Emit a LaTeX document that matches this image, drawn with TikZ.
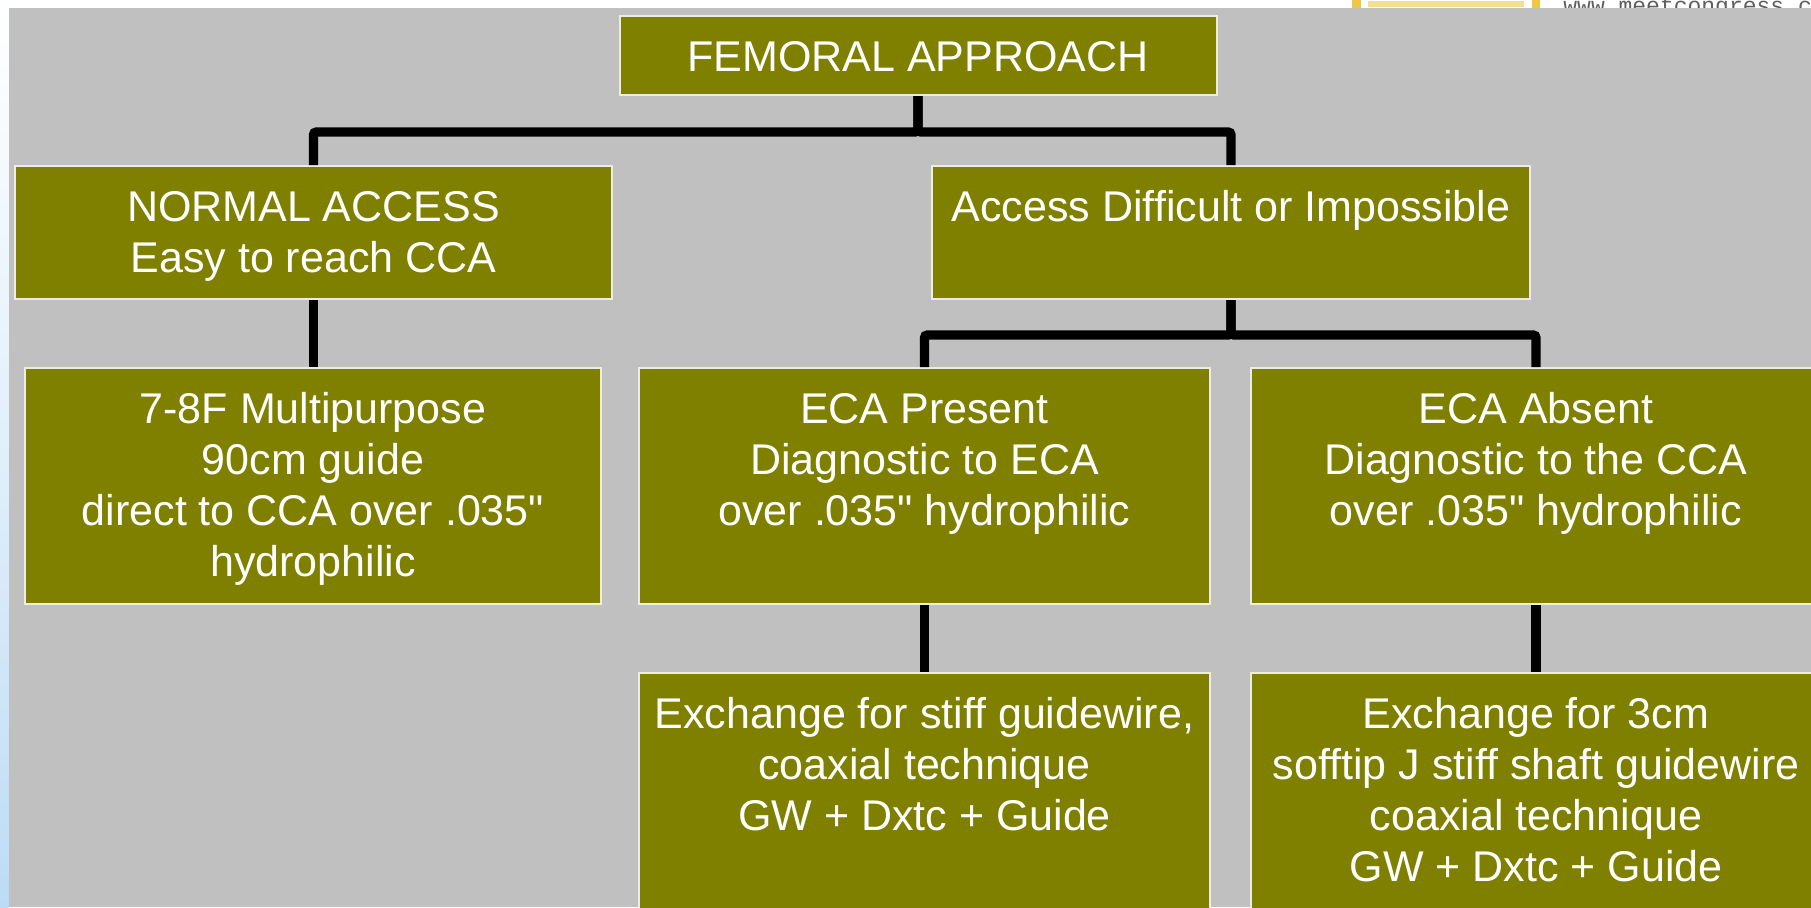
\documentclass[tikz,border=0pt]{standalone}
\usepackage{fontspec}
\setmainfont{Liberation Sans}
\setmonofont{Liberation Mono}
\usetikzlibrary{positioning}
\definecolor{olivebox}{RGB}{128,128,0}
\definecolor{slidegray}{RGB}{192,192,192}
\definecolor{boxedge}{RGB}{238,238,222}
\definecolor{stripblue}{RGB}{188,220,245}
\definecolor{urlgray}{RGB}{95,95,95}
\definecolor{logoyellow}{RGB}{236,200,70}
\newcommand{\panelfont}{\fontsize{21.5pt}{25.5pt}\selectfont}
\newcommand{\boxtext}[3]{\parbox[t][#2][t]{#1}{\centering\strut #3}}
\newcommand{\inch}{\XeTeXglyph\XeTeXcharglyph"22\relax}

\begin{document}
\begin{tikzpicture}[x=0.5pt, y=-0.5pt,
    panel/.style={draw=boxedge, line width=1pt, fill=olivebox, text=white,
                  anchor=north, inner xsep=0pt, inner ysep=10pt, font=\panelfont},
    link/.style={line width=4.7pt, black, rounded corners=1.5pt}]
    \useasboundingbox (0,0) rectangle (1811,907);
    \clip (0,0) rectangle (1811,907);
    % slide background
    \fill[white] (0,0) rectangle (1811,907);
    \shade[top color=white, bottom color=stripblue, middle color=stripblue!45] (0,0) rectangle (9,907);
    \node[anchor=base west, inner sep=0pt, text=urlgray, font=\ttfamily\fontsize{11.5pt}{12pt}\selectfont] (url) at (1563,13) {www.meetcongress.com};
    \fill[logoyellow] (1352,0) rectangle (1361,8);
    \fill[logoyellow] (1532,0) rectangle (1540,8);
    \fill[logoyellow!60] (1368,1) rectangle (1524,7);
    \fill[slidegray] (9,8) rectangle (1811,907);

    % boxes
    \node[panel] (femoral) at (918,15) {\boxtext{298.5pt}{19.5pt}{FEMORAL APPROACH}};
    \node[panel] (normal) at (313.5,165) {\boxtext{298.5pt}{46.5pt}{NORMAL ACCESS\\Easy to reach CCA}};
    \node[panel] (difficult) at (1231,165) {\boxtext{299pt}{46.5pt}{Access Difficult or Impossible}};
    \node[panel] (multi) at (313,367) {\boxtext{288pt}{98pt}{7-8F Multipurpose\\90cm guide\\direct to CCA over .035\inch\\hydrophilic}};
    \node[panel] (ecapres) at (924.5,367) {\boxtext{285.5pt}{98pt}{ECA Present\\Diagnostic to ECA\\over .035\inch{} hydrophilic}};
    \node[panel] (ecaabs) at (1536,367) {\boxtext{285.5pt}{98pt}{ECA Absent\\Diagnostic to the CCA\\over .035\inch{} hydrophilic}};
    \node[panel] (exstiff) at (924.5,672) {\boxtext{285.5pt}{110pt}{Exchange for stiff guidewire,\\coaxial technique\\GW + Dxtc + Guide}};
    \node[panel] (ex3cm) at (1536,672) {\boxtext{285.5pt}{110pt}{Exchange for 3cm\\sofftip J stiff shaft guidewire\\coaxial technique\\GW + Dxtc + Guide}};

    % connectors
    \draw[link] (femoral.south) -- ++(0,36) -| (normal.north);
    \draw[link] (femoral.south) -- ++(0,36) -| (difficult.north);
    \draw[link] (normal.south) -- (normal.south |- multi.north);
    \draw[link] (difficult.south) -- ++(0,35) -| (ecapres.north);
    \draw[link] (difficult.south) -- ++(0,35) -| (ecaabs.north);
    \draw[link] (ecapres.south) -- (exstiff.north);
    \draw[link] (ecaabs.south) -- (ex3cm.north);
\end{tikzpicture}
\end{document}
